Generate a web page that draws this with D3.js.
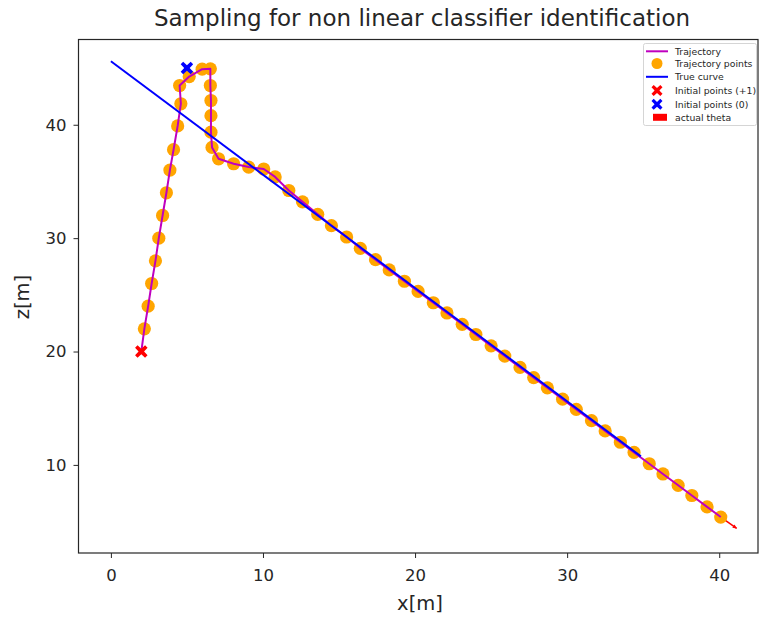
<!DOCTYPE html>
<html><head><meta charset="utf-8">
<script src="https://cdn.jsdelivr.net/npm/d3@7"></script>
<style>
body{margin:0;background:#fff}
svg{display:block}
text{font-family:"DejaVu Sans",sans-serif;fill:#262626}
</style></head>
<body><svg id="c" width="760" height="617"></svg>
<script>
// ---- data ----
const pointX = [2.2,2.45,2.68,2.93,3.15,3.4,3.65,3.88,4.12,4.39,4.6,4.52,5.15,6.0,6.54,6.54,6.58,6.58,6.58,6.65,7.08,8.07,9.06,10.05,10.8,
  11.7,12.6,13.6,14.5,15.5,16.4,17.4,18.3,19.3,20.2,21.2,22.1,23.1,24.0,25.0,25.9,26.9,27.8,28.7,29.7,30.6,31.6,32.5,33.5,34.4,35.4,36.3,37.3,38.2,39.2,40.1];
const pointZ = [22,24,26,28,30,32,34,36,37.8,39.9,41.85,43.46,44.25,44.9,44.93,43.46,42.14,40.8,39.35,38.0,37.0,36.56,36.27,36.1,35.4,
  34.2,33.2,32.1,31.1,30.1,29.1,28.1,27.2,26.2,25.3,24.3,23.4,22.4,21.5,20.5,19.6,18.6,17.7,16.8,15.8,14.9,13.9,13.0,12.0,11.1,10.1,9.2,8.2,7.3,6.3,5.4];
const startX = 2, startZ = 20;
const curveX = [0, 34.85];
const curveZ = [45.6, 10.75];
const thetaX = [40.1, 41.15];
const thetaZ = [5.4, 4.4];
const initPlusX = [2], initPlusZ = [20];
const initZeroX = [5], initZeroZ = [45];
const xTicks = [0,10,20,30,40];
const yTicks = [10,20,30,40];
const legendLabels = ["Trajectory","Trajectory points","True curve","Initial points (+1)","Initial points (0)","actual theta"];

// ---- layout ----
const svg = d3.select("#c");
const L=78.5, R=758, T=39.5, B=553;
const x = d3.scaleLinear().domain([-2.13,42.55]).range([L,R]);
const y = d3.scaleLinear().domain([2.23,47.52]).range([B,T]);

svg.append("defs").append("clipPath").attr("id","cp")
  .append("rect").attr("x",L).attr("y",T).attr("width",R-L).attr("height",B-T);
const plot = svg.append("g").attr("clip-path","url(#cp)");

// red theta arrow (under)
plot.append("line").attr("x1",x(thetaX[0])).attr("y1",y(thetaZ[0])).attr("x2",x(thetaX[1])).attr("y2",y(thetaZ[1]))
  .attr("stroke","#ff0000").attr("stroke-width",1.5);
{
  const x1=x(thetaX[0]),y1=y(thetaZ[0]),x2=x(thetaX[1]),y2=y(thetaZ[1]);
  const a=Math.atan2(y2-y1,x2-x1), h=4, w=2;
  const bx=x2-h*Math.cos(a), by=y2-h*Math.sin(a);
  plot.append("path").attr("d",`M${x2},${y2}L${bx-w*Math.sin(a)},${by+w*Math.cos(a)}L${bx+w*Math.sin(a)},${by-w*Math.cos(a)}Z`)
    .attr("fill","#ff0000");
}

// orange points
plot.selectAll("circle.pt").data(pointX.map((d,i)=>[d,pointZ[i]])).join("circle")
  .attr("class","pt").attr("cx",d=>x(d[0])).attr("cy",d=>y(d[1])).attr("r",6.6).attr("fill","#ffa500");

// trajectory line
const pathPts = [[startX,startZ]].concat(pointX.map((d,i)=>[d,pointZ[i]]));
plot.append("path").attr("d",d3.line().x(d=>x(d[0])).y(d=>y(d[1]))(pathPts))
  .attr("fill","none").attr("stroke","#bf00bf").attr("stroke-width",2).attr("stroke-linejoin","round");

// true curve
plot.append("path").attr("d",d3.line().x(d=>x(d[0])).y(d=>y(d[1]))(curveX.map((d,i)=>[d,curveZ[i]])))
  .attr("fill","none").attr("stroke","#0000ff").attr("stroke-width",2);

// X markers
function xMark(g,cx,cy,s,color){
  const a=s/2, b=s*0.2;
  const p=`M${-a+b},${-a} L0,${-b*1.1} L${a-b},${-a} L${a},${-a+b} L${b*1.1},0 L${a},${a-b} L${a-b},${a} L0,${b*1.1} L${-a+b},${a} L${-a},${a-b} L${-b*1.1},0 L${-a},${-a+b}Z`;
  g.append("path").attr("d",p).attr("transform",`translate(${cx},${cy})`).attr("fill",color);
}
initPlusX.forEach((d,i)=>xMark(plot,x(d),y(initPlusZ[i]),12.5,"#ff0000"));
initZeroX.forEach((d,i)=>xMark(plot,x(d),y(initZeroZ[i]),12.5,"#0000ff"));

// axes
const gx = svg.append("g").attr("transform",`translate(0,${B})`)
  .call(d3.axisBottom(x).tickValues(xTicks).tickSize(5).tickPadding(11).tickFormat(d3.format("d")));
const gy = svg.append("g").attr("transform",`translate(${L},0)`)
  .call(d3.axisLeft(y).tickValues(yTicks).tickSize(5).tickPadding(7).tickFormat(d3.format("d")));
[gx,gy].forEach(g=>{
  g.select(".domain").remove();
  g.selectAll("line").attr("stroke","#262626").attr("stroke-width",1);
  g.selectAll("text").attr("font-size",16.5).attr("font-family","DejaVu Sans").attr("fill","#262626");
});
svg.append("rect").attr("x",L).attr("y",T).attr("width",R-L).attr("height",B-T)
  .attr("fill","none").attr("stroke","#262626").attr("stroke-width",1.2);

// labels
svg.append("text").attr("x",422).attr("y",26).attr("text-anchor","middle").attr("font-size",23)
  .text("Sampling for non linear classifier identification");
svg.append("text").attr("x",420).attr("y",610).attr("text-anchor","middle").attr("font-size",19.5).text("x[m]");
svg.append("text").attr("transform","translate(29,297) rotate(-90)").attr("text-anchor","middle").attr("font-size",19.5).text("z[m]");

// legend
const lg = svg.append("g");
lg.append("rect").attr("x",643.5).attr("y",43.5).attr("width",113).attr("height",82).attr("rx",2)
  .attr("fill","#fff").attr("stroke","#d5d5d5").attr("stroke-width",1);
const rowY = [51.3,63.5,76.8,90.5,104.3,117.3];
const hx0=646, hx1=668, tx=675;
lg.append("line").attr("x1",hx0).attr("x2",hx1).attr("y1",rowY[0]).attr("y2",rowY[0]).attr("stroke","#bf00bf").attr("stroke-width",2);
lg.append("circle").attr("cx",(hx0+hx1)/2).attr("cy",rowY[1]).attr("r",5.5).attr("fill","#ffa500");
lg.append("line").attr("x1",hx0).attr("x2",hx1).attr("y1",rowY[2]).attr("y2",rowY[2]).attr("stroke","#0000ff").attr("stroke-width",2);
xMark(lg,(hx0+hx1)/2,rowY[3],11,"#ff0000");
xMark(lg,(hx0+hx1)/2,rowY[4],11,"#0000ff");
lg.append("rect").attr("x",653).attr("y",rowY[5]-3.5).attr("width",14).attr("height",7).attr("fill","#ff0000");
legendLabels.forEach((t,i)=>{
  lg.append("text").attr("x",tx).attr("y",rowY[i]).attr("dy","0.35em").attr("font-size",9.3).text(t);
});
</script></body></html>
